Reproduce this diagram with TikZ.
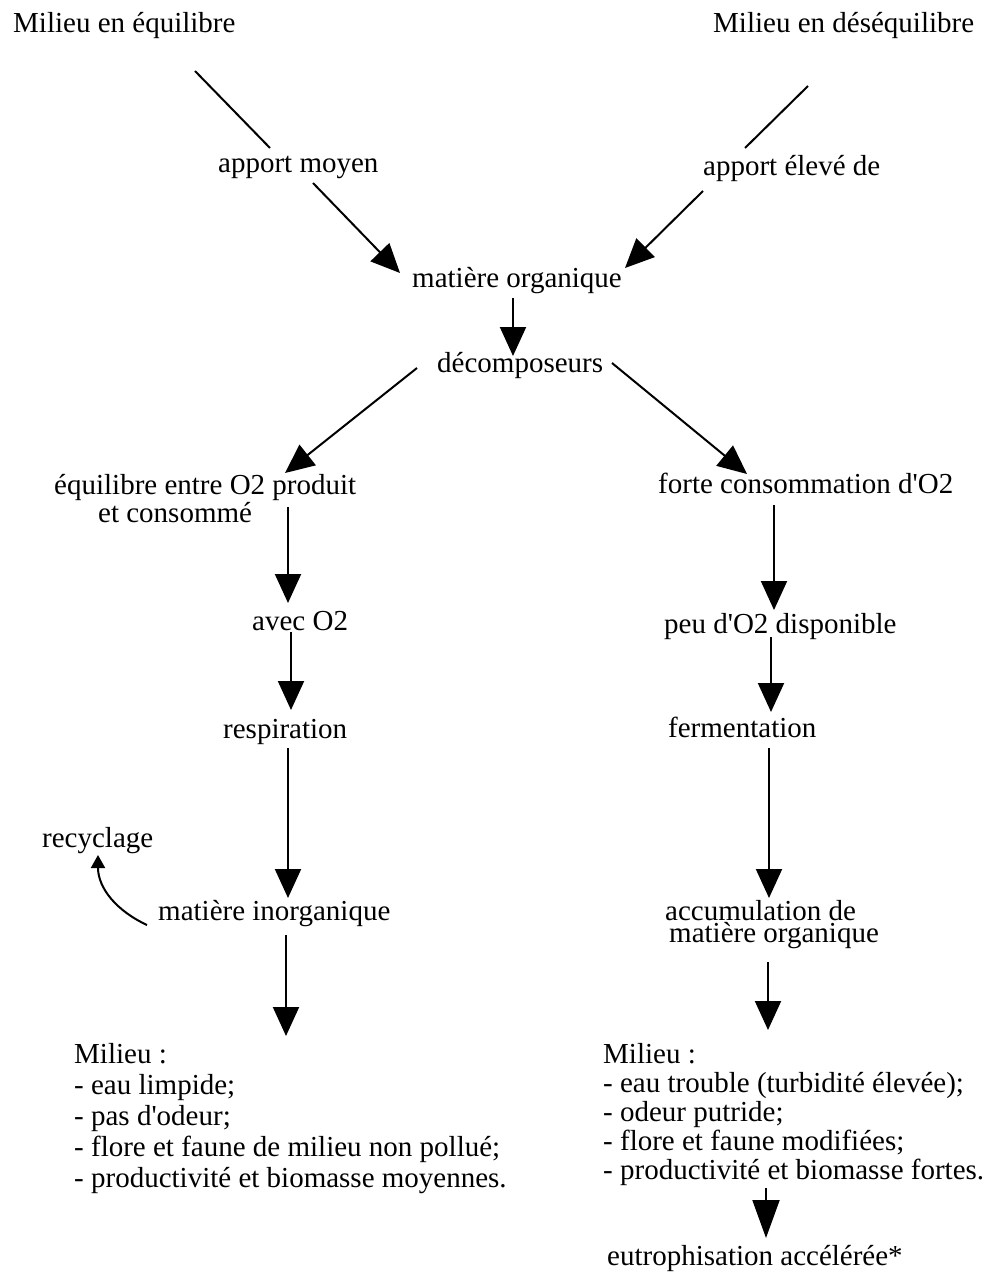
\documentclass[tikz,border=0pt]{standalone}
\usepackage{fontspec}
\setmainfont{Liberation Serif}
\usepackage{tikz}
\usetikzlibrary{arrows.meta}
\newcommand{\apo}{\textquotesingle}

\begin{document}
\begin{tikzpicture}[x=1pt,y=-1pt,
  txt/.style={inner sep=0pt,anchor=base west,align=left,font=\fontsize{29}{30}\selectfont},
  ln/.style={line width=2pt},
  arr/.style={line width=2pt,-{Triangle[length=29pt,width=26pt]}},
  smallarr/.style={line width=2pt,-{Triangle[length=13pt,width=14pt]}}]
  \useasboundingbox (0,0) rectangle (992,1277);

  %top
  \node[txt] (eqm) at (13,32) {Milieu en équilibre};
  \node[txt] (deseqm) at (713,32) {Milieu en déséquilibre};
  \node[txt] (appm) at (218,172) {apport moyen};
  \node[txt] (appe) at (703,175) {apport élevé de};
  \node[txt] (matorg) at (412,287) {matière organique};
  \node[txt] (decomp) at (437,372) {décomposeurs};

  %left branch (multi-line nodes sit on their last line)
  \node[txt,font=\fontsize{29}{26}\selectfont] (equil) at (54,522) {équilibre entre O2 produit\\\hspace*{44pt}et consommé};
  \node[txt] (avec) at (252,630) {avec O2};
  \node[txt] (resp) at (223,738) {respiration};
  \node[txt] (recyc) at (42,847) {recyclage};
  \node[txt] (matinorg) at (158,920) {matière inorganique};
  \node[txt,font=\fontsize{29}{31}\selectfont] (milL) at (74,1187) {Milieu :\\- eau limpide;\\- pas d\apo odeur;\\- flore et faune de milieu non pollué;\\- productivité et biomasse moyennes.};

  %right branch
  \node[txt] (forte) at (658,493) {forte consommation d\apo O2};
  \node[txt] (peu) at (664,633) {peu d\apo O2 disponible};
  \node[txt] (ferm) at (668,737) {fermentation};
  \node[txt,font=\fontsize{29}{22}\selectfont] (accum) at (665,942) {accumulation de\\\hspace*{4pt}matière organique};
  \node[txt,font=\fontsize{29}{29}\selectfont] (milR) at (603,1179) {Milieu :\\- eau trouble (turbidité élevée);\\- odeur putride;\\- flore et faune modifiées;\\- productivité et biomasse fortes.};
  \node[txt] (eutro) at (607,1265) {eutrophisation accélérée*};

  %arrows top
  \draw[ln] ([shift={(182,39)}]eqm.base west) -- ([shift={(52,-24)}]appm.base west);
  \draw[arr] ([shift={(95,11)}]appm.base west) -- ([shift={(-12,-14)}]matorg.base west);
  \draw[ln] ([shift={(95,54)}]deseqm.base west) -- ([shift={(42,-27)}]appe.base west);
  \draw[arr] ([shift={(0,16)}]appe.base west) -- ([shift={(213,-19)}]matorg.base west);
  \draw[arr] ([shift={(101,11)}]matorg.base west) -- ([shift={(76,-16)}]decomp.base west);
  \draw[arr] ([shift={(-20,-4)}]decomp.base west) -- ([shift={(231,-49)}]equil.base west);
  \draw[arr] ([shift={(175,-9)}]decomp.base west) -- ([shift={(89,-19)}]forte.base west);

  %arrows left
  \draw[arr] ([shift={(234,-15)}]equil.base west) -- ([shift={(36,-27)}]avec.base west);
  \draw[arr] ([shift={(39,2)}]avec.base west) -- ([shift={(68,-28)}]resp.base west);
  \draw[arr] ([shift={(65,10)}]resp.base west) -- ([shift={(130,-22)}]matinorg.base west);
  \draw[arr] ([shift={(128,15)}]matinorg.base west) -- ([shift={(212,-151)}]milL.base west);
  \draw[smallarr] ([shift={(-11,5)}]matinorg.base west) to[out=155,in=-90] ([shift={(56,8)}]recyc.base west);

  %arrows right
  \draw[arr] ([shift={(116,12)}]forte.base west) -- ([shift={(110,-23)}]peu.base west);
  \draw[arr] ([shift={(107,4)}]peu.base west) -- ([shift={(103,-25)}]ferm.base west);
  \draw[arr] ([shift={(101,11)}]ferm.base west) -- ([shift={(104,-44)}]accum.base west);
  \draw[arr] ([shift={(103,20)}]accum.base west) -- ([shift={(165,-149)}]milR.base west);
  \draw[line width=2pt,-{Triangle[length=38pt,width=27pt]}] ([shift={(163,9)}]milR.base west) -- ([shift={(159,-27)}]eutro.base west);
\end{tikzpicture}
\end{document}
